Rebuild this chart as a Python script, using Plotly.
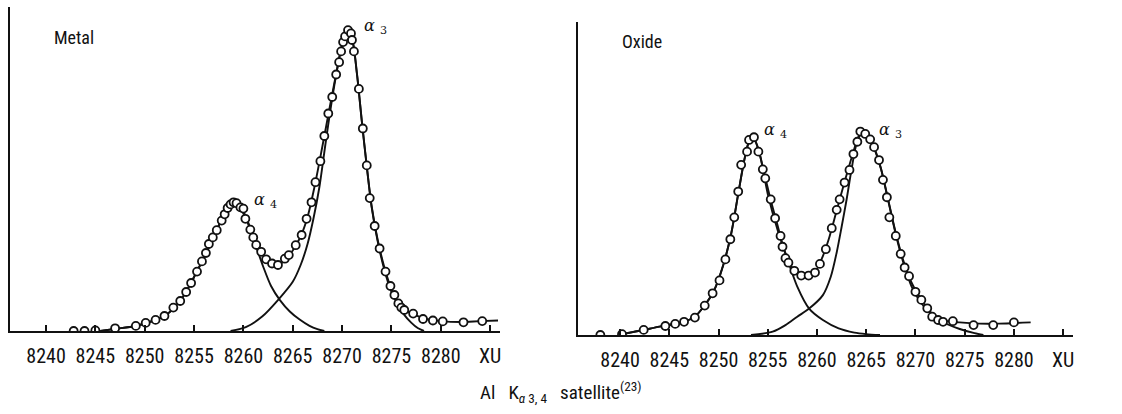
import plotly.graph_objects as go

# ---- Metal: measured points (wavelength in XU, intensity in arbitrary units)
metal_x = [8242.8, 8243.9, 8245.0, 8247.0, 8249.1, 8250.1, 8251.1, 8252.0, 8252.9, 8253.6,
           8254.2, 8254.7, 8255.3, 8255.8, 8256.2, 8256.5, 8256.9, 8257.3, 8257.8, 8258.1,
           8258.4, 8258.7, 8259.0, 8259.3, 8259.7, 8260.0, 8260.2, 8260.7, 8261.0, 8261.3,
           8261.8, 8262.3, 8262.9, 8263.5, 8264.2, 8264.6, 8265.3, 8265.9, 8266.4, 8266.9,
           8267.3, 8267.8, 8268.2, 8268.6, 8269.0, 8269.4, 8269.7, 8269.9, 8270.1, 8270.3,
           8270.6, 8270.9, 8271.0, 8271.2, 8271.7, 8272.1, 8272.5, 8272.8, 8273.3, 8273.8,
           8274.4, 8274.9, 8275.3, 8275.7, 8276.0, 8276.3, 8277.2, 8278.2, 8279.2, 8280.2,
           8282.3, 8284.2]
metal_y = [0.0, 0.0, 0.2, 0.9, 1.7, 2.7, 3.7, 5.0, 7.8, 10.0,
           13.0, 16.0, 19.8, 23.2, 26.0, 29.0, 31.2, 33.6, 36.8, 38.9,
           41.0, 42.2, 42.9, 42.6, 41.2, 40.8, 37.4, 33.8, 31.2, 28.7,
           26.4, 23.9, 22.5, 22.0, 24.1, 25.3, 28.6, 32.0, 37.4, 42.9,
           49.6, 56.6, 65.0, 72.5, 78.0, 85.5, 89.6, 93.2, 96.3, 98.2,
           100.3, 99.2, 97.0, 93.2, 80.7, 67.5, 55.2, 44.3, 35.0, 27.5,
           19.8, 15.0, 12.0, 9.2, 7.8, 7.0, 5.8, 4.0, 3.5, 3.2,
           2.9, 3.3]

# Metal: fitted total curve
metal_fit_x = [8245.5, 8247.0, 8249.0, 8250.5, 8252.0, 8253.0, 8254.0, 8255.0, 8256.0, 8257.0,
               8258.0, 8258.6, 8259.0, 8259.5, 8260.0, 8260.7, 8261.5, 8262.3, 8263.0, 8263.6,
               8264.3, 8265.0, 8265.8, 8266.5, 8267.2, 8268.0, 8268.8, 8269.5, 8270.0, 8270.5,
               8271.0, 8271.5, 8272.0, 8272.5, 8273.0, 8273.6, 8274.3, 8275.0, 8275.7, 8276.5,
               8277.5, 8278.5, 8280.0, 8282.0, 8284.0, 8285.8]
metal_fit_y = [0.0, 0.7, 1.6, 3.0, 5.0, 7.8, 12.0, 18.0, 24.5, 31.5,
               38.5, 41.8, 42.6, 42.0, 39.8, 34.5, 28.5, 24.3, 22.5, 22.3,
               23.8, 26.8, 31.5, 38.0, 48.0, 61.5, 75.5, 87.5, 95.5, 99.8,
               97.5, 86.0, 70.0, 55.0, 41.5, 30.5, 21.0, 14.0, 9.5, 6.8,
               5.2, 4.0, 3.3, 3.0, 3.3, 3.5]

# Metal: alpha-4 component
metal_a4_x = [8245.5, 8247.0, 8249.0, 8250.5, 8252.0, 8253.0, 8254.0, 8255.0, 8256.0, 8257.0,
              8258.0, 8258.6, 8259.0, 8259.8, 8260.5, 8261.2, 8262.0, 8262.8, 8263.7, 8264.7,
              8265.7, 8266.7, 8267.5, 8268.2]
metal_a4_y = [0.0, 0.7, 1.6, 3.0, 5.0, 7.8, 12.0, 18.0, 24.5, 31.5,
              38.5, 41.8, 42.6, 40.3, 35.5, 29.0, 21.5, 15.0, 10.3, 6.5,
              3.8, 1.7, 0.6, 0.0]

# Metal: alpha-3 component
metal_a3_x = [8258.7, 8260.3, 8261.9, 8263.5, 8265.0, 8265.8, 8266.5, 8267.1, 8267.7, 8268.3,
              8268.9, 8269.5, 8270.0, 8270.5, 8271.0, 8271.5, 8272.0, 8272.5, 8273.0, 8273.6,
              8274.3, 8275.0, 8275.6, 8276.2, 8277.0, 8277.7, 8278.3]
metal_a3_y = [0.0, 1.4, 4.8, 10.3, 16.4, 22.0, 29.0, 37.5, 48.0, 62.0,
              75.5, 87.2, 95.3, 99.6, 97.3, 85.8, 69.8, 54.8, 41.2, 30.0,
              20.2, 13.0, 9.0, 5.8, 2.8, 0.9, 0.0]

# ---- Oxide: measured points
oxide_x = [8238.0, 8240.2, 8242.4, 8244.6, 8245.6, 8246.5, 8247.6, 8248.6, 8249.4, 8250.1,
           8250.7, 8251.2, 8251.6, 8252.0, 8252.3, 8252.9, 8253.1, 8253.6, 8254.05, 8254.5,
           8254.75, 8255.3, 8255.75, 8256.3, 8256.5, 8256.8, 8257.1, 8257.7, 8258.4, 8259.15,
           8259.8, 8260.3, 8260.9, 8261.5, 8262.0, 8262.3, 8262.8, 8263.3, 8263.7, 8264.1,
           8264.4, 8264.9, 8265.4, 8265.8, 8266.3, 8266.7, 8267.1, 8267.35, 8268.0, 8268.5,
           8268.9, 8269.35, 8270.0, 8270.6, 8271.2, 8271.7, 8272.3, 8272.8, 8273.8, 8275.9,
           8277.9, 8280.0]
oxide_y = [0.0, 0.3, 1.7, 3.0, 3.7, 4.4, 5.8, 9.8, 13.9, 18.2,
           25.2, 31.9, 39.2, 47.8, 56.7, 61.1, 65.0, 65.9, 61.1, 55.2,
           52.2, 45.2, 38.9, 33.0, 29.4, 25.6, 24.1, 21.4, 19.8, 19.8,
           20.8, 23.7, 28.6, 35.6, 41.7, 45.2, 50.8, 55.0, 60.3, 64.4,
           67.8, 67.0, 65.2, 62.6, 58.3, 51.7, 45.9, 39.2, 33.0, 27.0,
           22.5, 19.6, 14.4, 11.7, 8.9, 6.1, 5.0, 4.4, 4.6, 3.3,
           3.3, 4.2]

# Oxide: fitted total curve
oxide_fit_x = [8240.0, 8242.0, 8244.0, 8246.0, 8247.5, 8248.5, 8249.5, 8250.5, 8251.3, 8252.0,
               8252.6, 8253.1, 8253.5, 8254.0, 8254.6, 8255.3, 8256.0, 8256.7, 8257.4, 8258.2,
               8259.0, 8259.8, 8260.5, 8261.2, 8262.0, 8262.8, 8263.6, 8264.2, 8264.6, 8265.2,
               8265.8, 8266.5, 8267.2, 8268.0, 8268.8, 8269.6, 8270.4, 8271.2, 8272.0, 8273.0,
               8274.5, 8276.5, 8278.5, 8281.7]
oxide_fit_y = [0.2, 1.4, 2.8, 4.0, 5.8, 9.5, 14.5, 23.5, 34.0, 47.0,
               58.0, 64.5, 66.0, 62.5, 54.5, 45.0, 36.5, 28.0, 22.8, 20.0,
               19.6, 21.0, 25.5, 32.0, 41.5, 51.0, 60.0, 66.0, 67.8, 66.5,
               62.5, 55.5, 45.5, 34.0, 24.5, 17.5, 12.8, 9.0, 6.2, 4.8,
               4.2, 3.8, 3.8, 4.2]

# Oxide: alpha-4 component
oxide_a4_x = [8240.0, 8242.0, 8244.0, 8246.0, 8247.5, 8248.5, 8249.5, 8250.5, 8251.3, 8252.0,
              8252.6, 8253.1, 8253.5, 8254.2, 8255.0, 8256.0, 8256.8, 8258.0, 8259.2, 8260.6,
              8262.2, 8263.8, 8265.0, 8266.4]
oxide_a4_y = [0.2, 1.4, 2.8, 4.0, 5.8, 9.5, 14.5, 23.5, 34.0, 47.0,
              58.0, 64.5, 66.0, 60.0, 47.0, 35.0, 27.2, 16.1, 8.8, 5.0,
              2.2, 0.8, 0.3, 0.0]

# Oxide: alpha-3 component
oxide_a3_x = [8253.3, 8255.5, 8256.8, 8258.0, 8259.2, 8260.6, 8261.4, 8262.0, 8262.5, 8263.0,
              8263.5, 8264.0, 8264.6, 8265.2, 8265.8, 8266.5, 8267.2, 8268.0, 8268.8, 8269.6,
              8270.4, 8271.4, 8272.6, 8274.5, 8276.0, 8276.9]
oxide_a3_y = [0.0, 1.1, 3.3, 6.1, 8.8, 13.3, 19.4, 27.5, 36.0, 45.0,
              55.0, 63.5, 67.6, 66.3, 62.3, 55.3, 45.3, 33.6, 23.8, 16.2,
              11.5, 7.6, 4.6, 2.0, 0.6, 0.0]

tick_vals = [8240, 8245, 8250, 8255, 8260, 8265, 8270, 8275, 8280, 8285]
tick_text = ["8240", "8245", "8250", "8255", "8260", "8265", "8270", "8275", "8280", "XU"]

FONT = "Liberation Sans Narrow, Roboto Condensed, Liberation Sans, Arial, sans-serif"
INK = "#111111"

fig = go.Figure()


def add_panel(xa, ya, fx, fy, a4x, a4y, a3x, a3y, px, py):
    line = dict(color=INK, width=1.9, shape="spline", smoothing=0.8)
    for lx, ly in ((a4x, a4y), (a3x, a3y), (fx, fy)):
        fig.add_trace(go.Scatter(x=lx, y=ly, mode="lines", line=line,
                                 xaxis=xa, yaxis=ya, showlegend=False, hoverinfo="skip"))
    fig.add_trace(go.Scatter(x=px, y=py, mode="markers",
                             marker=dict(symbol="circle", size=8, color="white",
                                         line=dict(color=INK, width=1.8)),
                             xaxis=xa, yaxis=ya, showlegend=False))


add_panel("x", "y", metal_fit_x, metal_fit_y, metal_a4_x, metal_a4_y,
          metal_a3_x, metal_a3_y, metal_x, metal_y)
add_panel("x2", "y2", oxide_fit_x, oxide_fit_y, oxide_a4_x, oxide_a4_y,
          oxide_a3_x, oxide_a3_y, oxide_x, oxide_y)

xcommon = dict(tickvals=tick_vals, ticktext=tick_text, ticks="inside", ticklen=6,
               tickwidth=1.5, tickcolor=INK, showline=True, linecolor=INK, linewidth=2,
               showgrid=False, zeroline=False,
               tickfont=dict(family=FONT, size=20, color=INK), ticklabelstandoff=6)
ycommon = dict(showline=True, linecolor=INK, linewidth=2, showgrid=False,
               zeroline=False, showticklabels=False, ticks="")

fig.update_layout(
    width=1122, height=414,
    margin=dict(l=0, r=0, t=0, b=0),
    paper_bgcolor="white", plot_bgcolor="white",
    xaxis=dict(domain=[10 / 1122, 500 / 1122], range=[8236.35, 8286.0], anchor="y", **xcommon),
    yaxis=dict(domain=[83 / 414, 407 / 414], range=[0, 108], anchor="x", **ycommon),
    xaxis2=dict(domain=[578 / 1122, 1073 / 1122], range=[8235.73, 8286.0], anchor="y2", **xcommon),
    yaxis2=dict(domain=[79 / 414, 392 / 414], range=[0, 104.3], anchor="x2", **ycommon),
)

ann_font = dict(family=FONT, size=18, color=INK)
cap_font = dict(family=FONT, size=19, color=INK)
alpha_font = dict(family="DejaVu Serif, serif", size=16, color=INK)
annotations = [
    dict(text="Metal", xref="paper", yref="paper", x=52 / 1122, y=(414 - 38) / 414,
         xanchor="left", yanchor="middle", showarrow=False, font=ann_font),
    dict(text="Oxide", xref="paper", yref="paper", x=620 / 1122, y=(414 - 41) / 414,
         xanchor="left", yanchor="middle", showarrow=False, font=ann_font),
    dict(text="<i>α</i> <sub>3</sub>", xref="x", yref="y", x=8272.0, y=101.5,
         xanchor="left", yanchor="middle", showarrow=False, font=alpha_font),
    dict(text="<i>α</i> <sub>4</sub>", xref="x", yref="y", x=8260.9, y=43.5,
         xanchor="left", yanchor="middle", showarrow=False, font=alpha_font),
    dict(text="<i>α</i> <sub>4</sub>", xref="x2", yref="y2", x=8254.4, y=68.0,
         xanchor="left", yanchor="middle", showarrow=False, font=alpha_font),
    dict(text="<i>α</i> <sub>3</sub>", xref="x2", yref="y2", x=8266.1, y=68.0,
         xanchor="left", yanchor="middle", showarrow=False, font=alpha_font),
    dict(text="Al   K<sub><i>α</i> 3, 4</sub>   satellite<sup>(23)</sup>",
         xref="paper", yref="paper", x=0.5, y=(414 - 392) / 414,
         xanchor="center", yanchor="middle", showarrow=False, font=cap_font),
]
fig.update_layout(annotations=annotations)

fig.write_html("out.html")
